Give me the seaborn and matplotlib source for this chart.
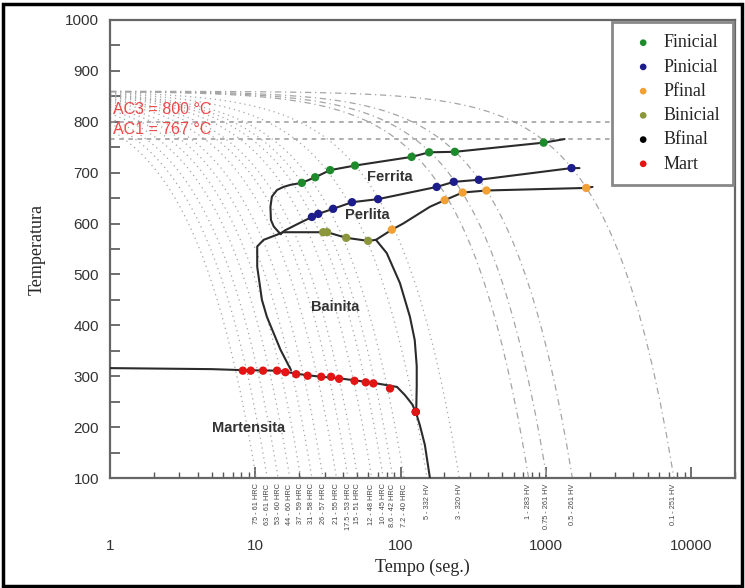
import numpy as np
import matplotlib
matplotlib.use("Agg")
import matplotlib.pyplot as plt
import matplotlib.ticker as mticker
import matplotlib.transforms as mtrans
from matplotlib.patches import Rectangle
import seaborn as sns

# --- data ------------------------------------------------------------------
T0 = 860  # austenitizing temperature, start of all cooling curves
cool_rates = [75, 63, 53, 44, 37, 31, 26, 21, 17.5, 15, 12, 10, 8.6, 7.2,
              5, 3, 1, 0.75, 0.5, 0.1]
cool_hard = ["61 HRC", "61 HRC", "60 HRC", "60 HRC", "59 HRC", "58 HRC", "57 HRC",
             "55 HRC", "53 HRC", "51 HRC", "48 HRC", "45 HRC", "42 HRC", "40 HRC",
             "332 HV", "320 HV", "283 HV", "261 HV", "261 HV", "251 HV"]

ferr_t = [1343, 964, 236, 157, 119, 48.5, 32.7, 25.8, 20.9, 17.4, 15.6, 14.1, 13.0,
          12.7, 12.8, 13.4, 14.4, 15.0]
ferr_T = [766, 759, 741, 740, 731, 714, 705, 691, 680, 676, 672, 666, 653,
          633, 607, 594, 584, 579]

perl_t = [1700, 1499, 345, 232, 177, 69.9, 46.3, 34.3, 27.1, 24.5, 19.8, 16.1, 15.0]
perl_T = [709, 709, 686, 682, 672, 648, 642, 629, 619, 613, 600, 587, 581]

pfin_t = [67.6, 87, 104, 159, 201, 267, 389, 1892, 2090]
pfin_T = [568, 588, 600, 633, 646, 661, 665, 670, 672]

bstart_t = [67.6, 59.7, 42.2, 31.2, 29.3, 15.6, 11.4, 10.3, 10.3, 11.1, 12.0, 14.9, 17.6]
bstart_T = [568, 566, 572, 583, 583, 583, 568, 555, 515, 450, 417, 352, 312]

bfin_t = [67.6, 80.2, 98.9, 115.8, 125, 129, 129, 128]
bfin_T = [568, 542, 483, 417, 371, 320, 280, 232]

mart_t = [1, 5, 8.2, 14.1, 16.1, 19.1, 22.9, 28.4, 37.7, 48.1, 57.5, 64.9, 75, 94.4,
          107, 120, 127, 135.5, 146.8, 159]
mart_T = [316, 314, 312, 311, 309, 305, 302, 299, 296, 292, 289, 287, 284, 279,
          263, 245, 230, 204, 165, 100]

fi_t = [20.9, 25.8, 32.7, 48.5, 119, 157, 236, 964]
fi_T = [680, 691, 705, 714, 731, 740, 741, 759]
pi_t = [24.5, 27.1, 34.3, 46.3, 69.9, 177, 232, 345, 1499]
pi_T = [613, 619, 629, 642, 648, 672, 682, 686, 709]
pf_t = [87, 201, 267, 389, 1892]
pf_T = [588, 646, 661, 665, 670]
bi_t = [29.3, 31.2, 42.2, 59.7]
bi_T = [583, 583, 572, 566]
bf_t = [127]
bf_T = [230]
ma_t = [8.2, 9.3, 11.3, 14.1, 16.1, 19.1, 22.9, 28.4, 33.2, 37.7, 48.1, 57.5, 64.9, 84.5, 127]
ma_T = [311, 311, 311, 311, 308, 304, 301, 299, 299, 295, 291, 288, 286, 276, 230]

# --- figure ---------------------------------------------------------------
sns.set_style("ticks")
plt.rcParams["font.family"] = ["Liberation Sans", "DejaVu Sans"]

fig = plt.figure(figsize=(7.45, 5.88), dpi=100)
ax = fig.add_axes([0.1477, 0.187, 0.8389, 0.779])
ax.set_xscale("log")

# cooling curves (linear cooling from T0)
for rate, hard in zip(cool_rates, cool_hard):
    t_end = (T0 - 100) / rate
    tt = np.geomspace(1, t_end, 80)
    ls = (0, (1, 3)) if rate > 1 else (0, (5, 3, 1, 3))
    ax.plot(tt, T0 - rate * tt, color="#a5a5a5", lw=0.9, ls=ls, zorder=1)
    ax.text(t_end, -0.012, f"{rate:g} - {hard}", rotation=90, ha="center", va="top",
            fontsize=5.3, color="#444444",
            transform=mtrans.blended_transform_factory(ax.transData, ax.transAxes))

# AC lines
for temp in [800, 767]:
    ax.axhline(temp, color="#9a9a9a", lw=1.1, ls=(0, (3, 3)), zorder=1)
ax.text(1.04, 824, "AC3 = 800 °C", color="#f04848", fontsize=11.5, va="center")
ax.text(1.04, 785, "AC1 = 767 °C", color="#f04848", fontsize=11.5, va="center")

# transformation lines
for tx, ty in [(ferr_t, ferr_T), (perl_t, perl_T), (pfin_t, pfin_T),
               (bstart_t, bstart_T), (bfin_t, bfin_T), (mart_t, mart_T)]:
    sns.lineplot(x=tx, y=ty, sort=False, estimator=None, color="#2b2b2b", lw=1.5,
                 ax=ax, zorder=3)

# points
series = [("Finicial", fi_t, fi_T, "#1d8a2c"), ("Pinicial", pi_t, pi_T, "#1c1c8a"),
          ("Pfinal", pf_t, pf_T, "#f0a035"), ("Binicial", bi_t, bi_T, "#8c963c"),
          ("Bfinal", bf_t, bf_T, "#000000"), ("Mart", ma_t, ma_T, "#e31414")]
for name, tx, ty, col in series:
    sns.scatterplot(x=tx, y=ty, color=col, s=36, edgecolor="none", label=name,
                    ax=ax, zorder=4)

# region labels
for txt, t, T in [("Ferrita", 84.5, 691), ("Perlita", 58.8, 617),
                  ("Bainita", 35.4, 436), ("Martensita", 8.96, 198)]:
    ax.text(t, T, txt, fontsize=10.5, fontweight="bold", color="#333333",
            ha="center", va="center", zorder=5)

ax.set_xlim(1, 2e4)
ax.set_ylim(100, 1000)
ax.yaxis.set_major_locator(mticker.MultipleLocator(100))
ax.yaxis.set_minor_locator(mticker.MultipleLocator(50))
ax.xaxis.set_major_locator(mticker.LogLocator(base=10))
ax.xaxis.set_major_formatter(mticker.FuncFormatter(lambda v, p: f"{v:.0f}"))
ax.tick_params(axis="both", which="both", direction="in", colors="#555555",
               labelcolor="#333333", labelsize=11)
ax.tick_params(axis="y", which="major", length=7, width=1.2, pad=8)
ax.tick_params(axis="y", which="minor", length=7, width=1.2)
ax.tick_params(axis="x", which="major", length=8, width=1.2, pad=44)
ax.tick_params(axis="x", which="minor", length=4, width=1)
for sp in ax.spines.values():
    sp.set_color("#666666")
    sp.set_linewidth(1.6)

ax.set_xlabel("Tempo (seg.)", family="Liberation Serif", fontsize=13, labelpad=4)
ax.set_ylabel("Temperatura", family="Liberation Serif", fontsize=13, labelpad=14)

leg = ax.legend(loc="upper right", bbox_to_anchor=(1.0, 1.0), borderaxespad=0.1,
                prop={"family": "Liberation Serif", "size": 13}, frameon=True,
                fancybox=False, markerscale=0.8, handlelength=2.0,
                handletextpad=0.15, labelspacing=0.4, borderpad=0.7)
leg.get_frame().set_edgecolor("#888888")
leg.get_frame().set_linewidth(2)
leg.get_frame().set_alpha(1)

fig.patches.append(Rectangle((0.004, 0.004), 0.992, 0.990, transform=fig.transFigure,
                             fill=False, edgecolor="black", lw=2.5))

fig.savefig("out.png", dpi=100)
